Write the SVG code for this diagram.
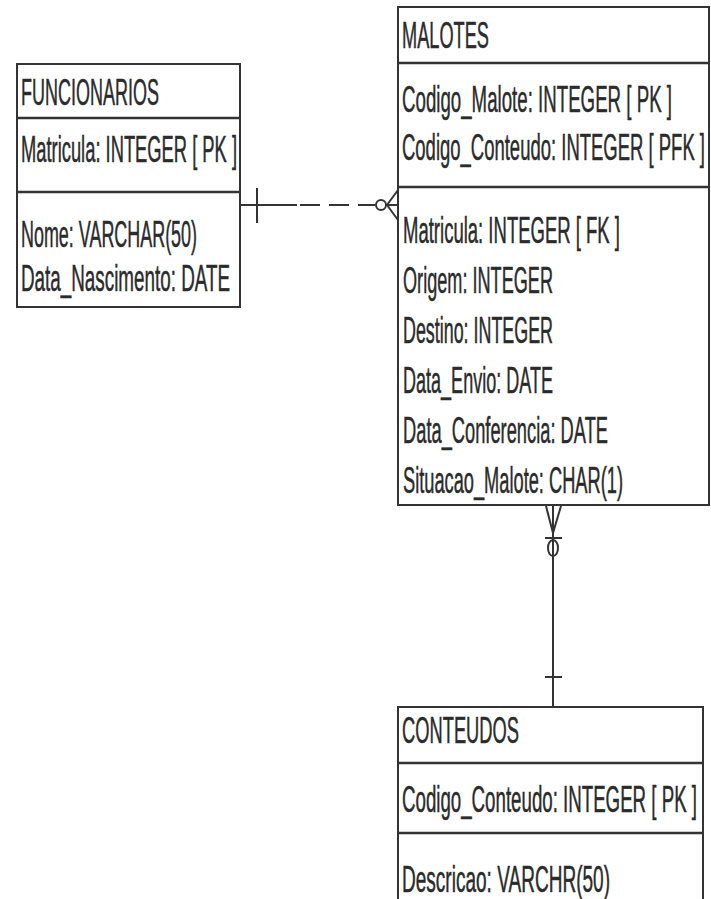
<svg xmlns="http://www.w3.org/2000/svg" width="711" height="899" viewBox="0 0 711 899">
<style>
.box{fill:#fff;stroke:#333;stroke-width:2}
.sep{stroke:#333;stroke-width:2.5}
.t{font-family:"Liberation Sans",Arial,sans-serif;font-size:37px;fill:#2b2b2b;stroke:#2b2b2b;stroke-width:0.5}
.ln{stroke:#333;stroke-width:2;fill:none}
</style>
<rect width="711" height="899" fill="#fff"/>
<g id="connectors">
  <line class="ln" x1="240" y1="205" x2="297" y2="205"/>
  <line class="ln" x1="300" y1="205" x2="375" y2="205" stroke-dasharray="20 9"/>
  <line class="ln" x1="257" y1="188" x2="257" y2="223"/>
  <circle class="ln" cx="381" cy="205" r="5"/>
  <line class="ln" x1="386" y1="205" x2="398" y2="205"/>
  <line class="ln" x1="387" y1="205" x2="398" y2="190"/>
  <line class="ln" x1="387" y1="205" x2="398" y2="220"/>
  <line class="ln" x1="553" y1="505" x2="553" y2="707"/>
  <line class="ln" x1="546" y1="506" x2="553" y2="533"/>
  <line class="ln" x1="561" y1="506" x2="553" y2="533"/>
  <line class="ln" x1="545" y1="538" x2="562" y2="538"/>
  <ellipse class="ln" cx="553" cy="548" rx="5" ry="8"/>
  <line class="ln" x1="545" y1="677" x2="562" y2="677"/>
</g>
<g id="FUNCIONARIOS">
  <rect class="box" x="17" y="64" width="223" height="243"/>
  <line class="sep" x1="17" y1="118" x2="240" y2="118"/>
  <line class="sep" x1="17" y1="192" x2="240" y2="192"/>
  <text class="t" transform="translate(21,105) scale(0.48,1)" textLength="287.5" lengthAdjust="spacingAndGlyphs">FUNCIONARIOS</text>
  <text class="t" transform="translate(21,162) scale(0.48,1)" textLength="450" lengthAdjust="spacingAndGlyphs">Matricula: INTEGER [ PK ]</text>
  <text class="t" transform="translate(21,247) scale(0.48,1)" textLength="366.7" lengthAdjust="spacingAndGlyphs">Nome: VARCHAR(50)</text>
  <text class="t" transform="translate(21,291) scale(0.48,1)" textLength="435.4" lengthAdjust="spacingAndGlyphs">Data_Nascimento: DATE</text>
</g>
<g id="MALOTES">
  <rect class="box" x="398" y="7" width="311" height="498"/>
  <line class="sep" x1="398" y1="63" x2="709" y2="63"/>
  <line class="sep" x1="398" y1="187" x2="709" y2="187"/>
  <text class="t" transform="translate(402,48) scale(0.48,1)" textLength="181.25" lengthAdjust="spacingAndGlyphs">MALOTES</text>
  <text class="t" transform="translate(402,112) scale(0.48,1)" textLength="562.5" lengthAdjust="spacingAndGlyphs">Codigo_Malote: INTEGER [ PK ]</text>
  <text class="t" transform="translate(402,160) scale(0.48,1)" textLength="631.25" lengthAdjust="spacingAndGlyphs">Codigo_Conteudo: INTEGER [ PFK ]</text>
  <text class="t" transform="translate(403,243) scale(0.48,1)" textLength="452.1" lengthAdjust="spacingAndGlyphs">Matricula: INTEGER [ FK ]</text>
  <text class="t" transform="translate(403,293) scale(0.48,1)" textLength="312.5" lengthAdjust="spacingAndGlyphs">Origem: INTEGER</text>
  <text class="t" transform="translate(403,343) scale(0.48,1)" textLength="312.5" lengthAdjust="spacingAndGlyphs">Destino: INTEGER</text>
  <text class="t" transform="translate(403,393) scale(0.48,1)" textLength="312.5" lengthAdjust="spacingAndGlyphs">Data_Envio: DATE</text>
  <text class="t" transform="translate(403,443) scale(0.48,1)" textLength="427.1" lengthAdjust="spacingAndGlyphs">Data_Conferencia: DATE</text>
  <text class="t" transform="translate(403,493) scale(0.48,1)" textLength="458.3" lengthAdjust="spacingAndGlyphs">Situacao_Malote: CHAR(1)</text>
</g>
<g id="CONTEUDOS">
  <rect class="box" x="398" y="707" width="305" height="210"/>
  <line class="sep" x1="398" y1="763" x2="703" y2="763"/>
  <line class="sep" x1="398" y1="833" x2="703" y2="833"/>
  <text class="t" transform="translate(402,743) scale(0.48,1)" textLength="243.75" lengthAdjust="spacingAndGlyphs">CONTEUDOS</text>
  <text class="t" transform="translate(402,812) scale(0.48,1)" textLength="614.6" lengthAdjust="spacingAndGlyphs">Codigo_Conteudo: INTEGER [ PK ]</text>
  <text class="t" transform="translate(402,892) scale(0.48,1)" textLength="433.3" lengthAdjust="spacingAndGlyphs">Descricao: VARCHR(50)</text>
</g>
</svg>
